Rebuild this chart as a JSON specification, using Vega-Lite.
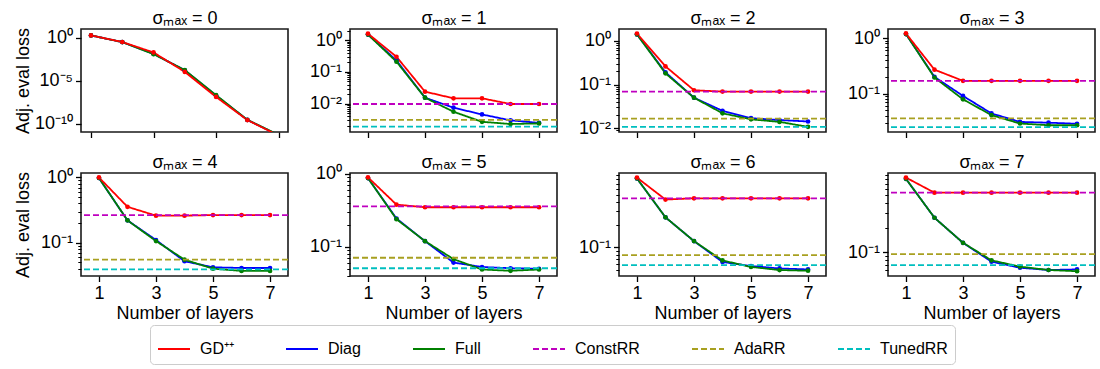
{
  "$schema": "https://vega.github.io/schema/vega-lite/v6.json",
  "autosize": {"type": "pad"},
  "padding": {"left": 13, "top": 8, "right": 0, "bottom": 0},
  "background": "white",
  "config": {
    "font": "Liberation Sans",
    "view": {"stroke": "#1a1a1a", "strokeWidth": 1.6},
    "axis": {"labelFont": "Liberation Sans", "labelFontSize": 18, "labelColor": "black", "titleFont": "Liberation Sans", "titleFontSize": 18, "titleFontWeight": "normal", "titleColor": "black", "tickColor": "black", "tickWidth": 1.3, "tickSize": 5.5, "domain": false, "grid": false, "labelPadding": 3, "labelOverlap": false, "labelFlush": false},
    "axisX": {"labelPadding": 3, "titlePadding": 2},
    "axisY": {"titleX": -53, "titleY": 51.5, "titleBaseline": "alphabetic", "titleAngle": 270},
    "legend": {"orient": "none", "legendX": 69, "legendY": 296, "direction": "horizontal", "columns": 6, "symbolType": "stroke", "symbolSize": 1024, "symbolStrokeWidth": 1.8, "labelFont": "Liberation Sans", "labelFontSize": 16, "labelColor": "black", "labelOffset": 9, "columnPadding": 48, "padding": 7, "strokeColor": "#cccccc", "cornerRadius": 4, "fillColor": "white", "labelLimit": 0}
  },
  "datasets": {
    "curves": [
      {"s":0,"series":"Diag","layer":1,"loss":2.0},{"s":0,"series":"Diag","layer":2,"loss":0.33},{"s":0,"series":"Diag","layer":3,"loss":0.014},{"s":0,"series":"Diag","layer":4,"loss":1.7e-4},{"s":0,"series":"Diag","layer":5,"loss":1.9e-7},{"s":0,"series":"Diag","layer":6,"loss":2.7e-10},{"s":0,"series":"Diag","layer":7,"loss":4.5e-12},
      {"s":0,"series":"Full","layer":1,"loss":2.0},{"s":0,"series":"Full","layer":2,"loss":0.33},{"s":0,"series":"Full","layer":3,"loss":0.013},{"s":0,"series":"Full","layer":4,"loss":1.8e-4},{"s":0,"series":"Full","layer":5,"loss":2.1e-7},{"s":0,"series":"Full","layer":6,"loss":2.8e-10},{"s":0,"series":"Full","layer":7,"loss":4.8e-12},
      {"s":0,"series":"GD⁺⁺","layer":1,"loss":2.0},{"s":0,"series":"GD⁺⁺","layer":2,"loss":0.34},{"s":0,"series":"GD⁺⁺","layer":3,"loss":0.0204},{"s":0,"series":"GD⁺⁺","layer":4,"loss":1.1e-4},{"s":0,"series":"GD⁺⁺","layer":5,"loss":1.3e-7},{"s":0,"series":"GD⁺⁺","layer":6,"loss":2.6e-10},{"s":0,"series":"GD⁺⁺","layer":7,"loss":4e-12},

      {"s":1,"series":"Diag","layer":1,"loss":1.5},{"s":1,"series":"Diag","layer":2,"loss":0.23},{"s":1,"series":"Diag","layer":3,"loss":0.0155},{"s":1,"series":"Diag","layer":4,"loss":0.0075},{"s":1,"series":"Diag","layer":5,"loss":0.0046},{"s":1,"series":"Diag","layer":6,"loss":0.003},{"s":1,"series":"Diag","layer":7,"loss":0.0025},
      {"s":1,"series":"Full","layer":1,"loss":1.5},{"s":1,"series":"Full","layer":2,"loss":0.21},{"s":1,"series":"Full","layer":3,"loss":0.0155},{"s":1,"series":"Full","layer":4,"loss":0.0056},{"s":1,"series":"Full","layer":5,"loss":0.0027},{"s":1,"series":"Full","layer":6,"loss":0.0023},{"s":1,"series":"Full","layer":7,"loss":0.0024},
      {"s":1,"series":"GD⁺⁺","layer":1,"loss":1.6},{"s":1,"series":"GD⁺⁺","layer":2,"loss":0.30},{"s":1,"series":"GD⁺⁺","layer":3,"loss":0.024},{"s":1,"series":"GD⁺⁺","layer":4,"loss":0.0148},{"s":1,"series":"GD⁺⁺","layer":5,"loss":0.0148},{"s":1,"series":"GD⁺⁺","layer":6,"loss":0.0098},{"s":1,"series":"GD⁺⁺","layer":7,"loss":0.0098},

      {"s":2,"series":"Diag","layer":1,"loss":1.4},{"s":2,"series":"Diag","layer":2,"loss":0.19},{"s":2,"series":"Diag","layer":3,"loss":0.05},{"s":2,"series":"Diag","layer":4,"loss":0.025},{"s":2,"series":"Diag","layer":5,"loss":0.017},{"s":2,"series":"Diag","layer":6,"loss":0.0154},{"s":2,"series":"Diag","layer":7,"loss":0.0143},
      {"s":2,"series":"Full","layer":1,"loss":1.4},{"s":2,"series":"Full","layer":2,"loss":0.18},{"s":2,"series":"Full","layer":3,"loss":0.05},{"s":2,"series":"Full","layer":4,"loss":0.022},{"s":2,"series":"Full","layer":5,"loss":0.016},{"s":2,"series":"Full","layer":6,"loss":0.014},{"s":2,"series":"Full","layer":7,"loss":0.0108},
      {"s":2,"series":"GD⁺⁺","layer":1,"loss":1.47},{"s":2,"series":"GD⁺⁺","layer":2,"loss":0.26},{"s":2,"series":"GD⁺⁺","layer":3,"loss":0.074},{"s":2,"series":"GD⁺⁺","layer":4,"loss":0.069},{"s":2,"series":"GD⁺⁺","layer":5,"loss":0.069},{"s":2,"series":"GD⁺⁺","layer":6,"loss":0.069},{"s":2,"series":"GD⁺⁺","layer":7,"loss":0.069},

      {"s":3,"series":"Diag","layer":1,"loss":1.18},{"s":3,"series":"Diag","layer":2,"loss":0.2},{"s":3,"series":"Diag","layer":3,"loss":0.091},{"s":3,"series":"Diag","layer":4,"loss":0.044},{"s":3,"series":"Diag","layer":5,"loss":0.031},{"s":3,"series":"Diag","layer":6,"loss":0.030},{"s":3,"series":"Diag","layer":7,"loss":0.0287},
      {"s":3,"series":"Full","layer":1,"loss":1.18},{"s":3,"series":"Full","layer":2,"loss":0.195},{"s":3,"series":"Full","layer":3,"loss":0.079},{"s":3,"series":"Full","layer":4,"loss":0.041},{"s":3,"series":"Full","layer":5,"loss":0.029},{"s":3,"series":"Full","layer":6,"loss":0.027},{"s":3,"series":"Full","layer":7,"loss":0.027},
      {"s":3,"series":"GD⁺⁺","layer":1,"loss":1.21},{"s":3,"series":"GD⁺⁺","layer":2,"loss":0.27},{"s":3,"series":"GD⁺⁺","layer":3,"loss":0.17},{"s":3,"series":"GD⁺⁺","layer":4,"loss":0.17},{"s":3,"series":"GD⁺⁺","layer":5,"loss":0.17},{"s":3,"series":"GD⁺⁺","layer":6,"loss":0.17},{"s":3,"series":"GD⁺⁺","layer":7,"loss":0.17},

      {"s":4,"series":"Diag","layer":1,"loss":0.98},{"s":4,"series":"Diag","layer":2,"loss":0.22},{"s":4,"series":"Diag","layer":3,"loss":0.11},{"s":4,"series":"Diag","layer":4,"loss":0.052},{"s":4,"series":"Diag","layer":5,"loss":0.042},{"s":4,"series":"Diag","layer":6,"loss":0.041},{"s":4,"series":"Diag","layer":7,"loss":0.041},
      {"s":4,"series":"Full","layer":1,"loss":0.98},{"s":4,"series":"Full","layer":2,"loss":0.22},{"s":4,"series":"Full","layer":3,"loss":0.106},{"s":4,"series":"Full","layer":4,"loss":0.055},{"s":4,"series":"Full","layer":5,"loss":0.04},{"s":4,"series":"Full","layer":6,"loss":0.037},{"s":4,"series":"Full","layer":7,"loss":0.037},
      {"s":4,"series":"GD⁺⁺","layer":1,"loss":1.0},{"s":4,"series":"GD⁺⁺","layer":2,"loss":0.355},{"s":4,"series":"GD⁺⁺","layer":3,"loss":0.26},{"s":4,"series":"GD⁺⁺","layer":4,"loss":0.26},{"s":4,"series":"GD⁺⁺","layer":5,"loss":0.265},{"s":4,"series":"GD⁺⁺","layer":6,"loss":0.265},{"s":4,"series":"GD⁺⁺","layer":7,"loss":0.265},

      {"s":5,"series":"Diag","layer":1,"loss":0.88},{"s":5,"series":"Diag","layer":2,"loss":0.245},{"s":5,"series":"Diag","layer":3,"loss":0.12},{"s":5,"series":"Diag","layer":4,"loss":0.061},{"s":5,"series":"Diag","layer":5,"loss":0.053},{"s":5,"series":"Diag","layer":6,"loss":0.051},{"s":5,"series":"Diag","layer":7,"loss":0.05},
      {"s":5,"series":"Full","layer":1,"loss":0.88},{"s":5,"series":"Full","layer":2,"loss":0.24},{"s":5,"series":"Full","layer":3,"loss":0.12},{"s":5,"series":"Full","layer":4,"loss":0.068},{"s":5,"series":"Full","layer":5,"loss":0.049},{"s":5,"series":"Full","layer":6,"loss":0.047},{"s":5,"series":"Full","layer":7,"loss":0.049},
      {"s":5,"series":"GD⁺⁺","layer":1,"loss":0.9},{"s":5,"series":"GD⁺⁺","layer":2,"loss":0.38},{"s":5,"series":"GD⁺⁺","layer":3,"loss":0.35},{"s":5,"series":"GD⁺⁺","layer":4,"loss":0.35},{"s":5,"series":"GD⁺⁺","layer":5,"loss":0.35},{"s":5,"series":"GD⁺⁺","layer":6,"loss":0.35},{"s":5,"series":"GD⁺⁺","layer":7,"loss":0.35},

      {"s":6,"series":"Diag","layer":1,"loss":0.82},{"s":6,"series":"Diag","layer":2,"loss":0.25},{"s":6,"series":"Diag","layer":3,"loss":0.121},{"s":6,"series":"Diag","layer":4,"loss":0.064},{"s":6,"series":"Diag","layer":5,"loss":0.0565},{"s":6,"series":"Diag","layer":6,"loss":0.0525},{"s":6,"series":"Diag","layer":7,"loss":0.051},
      {"s":6,"series":"Full","layer":1,"loss":0.82},{"s":6,"series":"Full","layer":2,"loss":0.25},{"s":6,"series":"Full","layer":3,"loss":0.121},{"s":6,"series":"Full","layer":4,"loss":0.067},{"s":6,"series":"Full","layer":5,"loss":0.055},{"s":6,"series":"Full","layer":6,"loss":0.05},{"s":6,"series":"Full","layer":7,"loss":0.049},
      {"s":6,"series":"GD⁺⁺","layer":1,"loss":0.84},{"s":6,"series":"GD⁺⁺","layer":2,"loss":0.43},{"s":6,"series":"GD⁺⁺","layer":3,"loss":0.447},{"s":6,"series":"GD⁺⁺","layer":4,"loss":0.447},{"s":6,"series":"GD⁺⁺","layer":5,"loss":0.447},{"s":6,"series":"GD⁺⁺","layer":6,"loss":0.447},{"s":6,"series":"GD⁺⁺","layer":7,"loss":0.447},

      {"s":7,"series":"Diag","layer":1,"loss":0.8},{"s":7,"series":"Diag","layer":2,"loss":0.265},{"s":7,"series":"Diag","layer":3,"loss":0.13},{"s":7,"series":"Diag","layer":4,"loss":0.076},{"s":7,"series":"Diag","layer":5,"loss":0.064},{"s":7,"series":"Diag","layer":6,"loss":0.06},{"s":7,"series":"Diag","layer":7,"loss":0.061},
      {"s":7,"series":"Full","layer":1,"loss":0.8},{"s":7,"series":"Full","layer":2,"loss":0.265},{"s":7,"series":"Full","layer":3,"loss":0.13},{"s":7,"series":"Full","layer":4,"loss":0.079},{"s":7,"series":"Full","layer":5,"loss":0.066},{"s":7,"series":"Full","layer":6,"loss":0.06},{"s":7,"series":"Full","layer":7,"loss":0.058},
      {"s":7,"series":"GD⁺⁺","layer":1,"loss":0.83},{"s":7,"series":"GD⁺⁺","layer":2,"loss":0.54},{"s":7,"series":"GD⁺⁺","layer":3,"loss":0.54},{"s":7,"series":"GD⁺⁺","layer":4,"loss":0.54},{"s":7,"series":"GD⁺⁺","layer":5,"loss":0.54},{"s":7,"series":"GD⁺⁺","layer":6,"loss":0.54},{"s":7,"series":"GD⁺⁺","layer":7,"loss":0.54}
    ],
    "baselines": [
      {"s":1,"series":"ConstRR","loss":0.0098},{"s":1,"series":"AdaRR","loss":0.0031},{"s":1,"series":"TunedRR","loss":0.0019},
      {"s":2,"series":"ConstRR","loss":0.069},{"s":2,"series":"AdaRR","loss":0.0167},{"s":2,"series":"TunedRR","loss":0.0108},
      {"s":3,"series":"ConstRR","loss":0.17},{"s":3,"series":"AdaRR","loss":0.036},{"s":3,"series":"TunedRR","loss":0.025},
      {"s":4,"series":"ConstRR","loss":0.265},{"s":4,"series":"AdaRR","loss":0.055},{"s":4,"series":"TunedRR","loss":0.039},
      {"s":5,"series":"ConstRR","loss":0.36},{"s":5,"series":"AdaRR","loss":0.071},{"s":5,"series":"TunedRR","loss":0.051},
      {"s":6,"series":"ConstRR","loss":0.447},{"s":6,"series":"AdaRR","loss":0.079},{"s":6,"series":"TunedRR","loss":0.058},
      {"s":7,"series":"ConstRR","loss":0.54},{"s":7,"series":"AdaRR","loss":0.094},{"s":7,"series":"TunedRR","loss":0.069}
    ]
  },
  "columns": 4,
  "spacing": {"row": 41, "column": 62},
  "bounds": "flush",
  "concat": [
        {
          "width": 207, "height": 103,
          "resolve": {"axis": {"x": "independent"}},
          "layer": [
            {"data": {"name": "curves"}, "transform": [{"filter": "datum.s == 0"}], "mark": {"type": "line", "strokeWidth": 1.8, "clip": true},
             "encoding": {
               "x": {"field": "layer", "type": "quantitative", "scale": {"domain": [0.68, 7.3], "nice": false, "zero": false}, "axis": {"orient": "bottom", "values": [1,3,5,7], "labels": false, "title": null}},
               "y": {"field": "loss", "type": "quantitative", "scale": {"type": "log", "domain": [1.05e-11, 11.2], "nice": false}, "axis": {"values": [1, 1e-5, 1e-10], "labelExpr": "'10' + replace(replace(replace(replace(replace(replace('' + round(log(datum.value) / LN10), '-', '⁻'), '0', '⁰'), '1', '¹'), '2', '²'), '3', '³'), '5', '⁵')", "title": "Adj. eval loss"}},
               "color": {"field": "series", "type": "nominal", "scale": {"domain": ["GD⁺⁺","Diag","Full","ConstRR","AdaRR","TunedRR"], "range": ["#ff0000","#0000ff","#008000","#bf00bf","#a8a020","#00bfbf"]}, "legend": {"title": null}},
               "strokeDash": {"field": "series", "type": "nominal", "scale": {"domain": ["GD⁺⁺","Diag","Full","ConstRR","AdaRR","TunedRR"], "range": [[1,0],[1,0],[1,0],[6,3],[6,3],[6,3]]}, "legend": {"title": null}}
             }},
            {"data": {"name": "curves"}, "transform": [{"filter": "datum.s == 0"}], "mark": {"type": "point", "filled": true, "size": 22, "opacity": 1, "clip": true},
             "encoding": {
               "x": {"field": "layer", "type": "quantitative", "axis": {"orient": "top", "ticks": false, "labels": false, "domain": false, "title": "σₘₐₓ = 0", "titlePadding": 6, "titleBaseline": "alphabetic"}},
               "y": {"field": "loss", "type": "quantitative"},
               "color": {"field": "series", "type": "nominal", "scale": {"domain": ["GD⁺⁺","Diag","Full","ConstRR","AdaRR","TunedRR"], "range": ["#ff0000","#0000ff","#008000","#bf00bf","#a8a020","#00bfbf"]}, "legend": {"title": null}}
             }}
          ]
        },
        {
          "width": 207, "height": 103,
          "resolve": {"axis": {"x": "independent"}},
          "layer": [
            {"data": {"name": "curves"}, "transform": [{"filter": "datum.s == 1"}], "mark": {"type": "line", "strokeWidth": 1.8, "clip": true},
             "encoding": {
               "x": {"field": "layer", "type": "quantitative", "scale": {"domain": [0.37, 7.63], "nice": false, "zero": false}, "axis": {"orient": "bottom", "values": [1,3,5,7], "labels": false, "title": null}},
               "y": {"field": "loss", "type": "quantitative", "scale": {"type": "log", "domain": [0.00129, 2.24], "nice": false}, "axis": {"values": [1, 0.1, 0.01, 0.002,0.003,0.004,0.005,0.006,0.007,0.008,0.009,0.02,0.03,0.04,0.05,0.06,0.07,0.08,0.09,0.2,0.3,0.4,0.5,0.6,0.7,0.8,0.9,2], "labelExpr": "abs(log(datum.value)/LN10 - round(log(datum.value)/LN10)) < 0.001 ? '10' + replace(replace(replace(replace(replace(replace('' + round(log(datum.value) / LN10), '-', '⁻'), '0', '⁰'), '1', '¹'), '2', '²'), '3', '³'), '5', '⁵') : ''", "tickSize": {"condition": {"test": "abs(log(datum.value)/LN10 - round(log(datum.value)/LN10)) < 0.001", "value": 5.5}, "value": 3.2}, "tickWidth": {"condition": {"test": "abs(log(datum.value)/LN10 - round(log(datum.value)/LN10)) < 0.001", "value": 1.3}, "value": 1}, "title": null}},
               "color": {"field": "series", "type": "nominal", "scale": {"domain": ["GD⁺⁺","Diag","Full","ConstRR","AdaRR","TunedRR"], "range": ["#ff0000","#0000ff","#008000","#bf00bf","#a8a020","#00bfbf"]}, "legend": {"title": null}},
               "strokeDash": {"field": "series", "type": "nominal", "scale": {"domain": ["GD⁺⁺","Diag","Full","ConstRR","AdaRR","TunedRR"], "range": [[1,0],[1,0],[1,0],[6,3],[6,3],[6,3]]}, "legend": {"title": null}}
             }},
            {"data": {"name": "curves"}, "transform": [{"filter": "datum.s == 1"}], "mark": {"type": "point", "filled": true, "size": 22, "opacity": 1, "clip": true},
             "encoding": {
               "x": {"field": "layer", "type": "quantitative", "axis": {"orient": "top", "ticks": false, "labels": false, "domain": false, "title": "σₘₐₓ = 1", "titlePadding": 6, "titleBaseline": "alphabetic"}},
               "y": {"field": "loss", "type": "quantitative"},
               "color": {"field": "series", "type": "nominal", "scale": {"domain": ["GD⁺⁺","Diag","Full","ConstRR","AdaRR","TunedRR"], "range": ["#ff0000","#0000ff","#008000","#bf00bf","#a8a020","#00bfbf"]}, "legend": {"title": null}}
             }},
            {"data": {"name": "baselines"}, "transform": [{"filter": "datum.s == 1"}], "mark": {"type": "rule", "strokeWidth": 1.8},
             "encoding": {
               "y": {"field": "loss", "type": "quantitative"},
               "color": {"field": "series", "type": "nominal", "scale": {"domain": ["GD⁺⁺","Diag","Full","ConstRR","AdaRR","TunedRR"], "range": ["#ff0000","#0000ff","#008000","#bf00bf","#a8a020","#00bfbf"]}, "legend": {"title": null}},
               "strokeDash": {"field": "series", "type": "nominal", "scale": {"domain": ["GD⁺⁺","Diag","Full","ConstRR","AdaRR","TunedRR"], "range": [[1,0],[1,0],[1,0],[6,3],[6,3],[6,3]]}, "legend": {"title": null}}
             }}
          ]
        },
        {
          "width": 207, "height": 103,
          "resolve": {"axis": {"x": "independent"}},
          "layer": [
            {"data": {"name": "curves"}, "transform": [{"filter": "datum.s == 2"}], "mark": {"type": "line", "strokeWidth": 1.8, "clip": true},
             "encoding": {
               "x": {"field": "layer", "type": "quantitative", "scale": {"domain": [0.37, 7.63], "nice": false, "zero": false}, "axis": {"orient": "bottom", "values": [1,3,5,7], "labels": false, "title": null}},
               "y": {"field": "loss", "type": "quantitative", "scale": {"type": "log", "domain": [0.00822, 1.86], "nice": false}, "axis": {"values": [1, 0.1, 0.01, 0.009,0.02,0.03,0.04,0.05,0.06,0.07,0.08,0.09,0.2,0.3,0.4,0.5,0.6,0.7,0.8,0.9], "labelExpr": "abs(log(datum.value)/LN10 - round(log(datum.value)/LN10)) < 0.001 ? '10' + replace(replace(replace(replace(replace(replace('' + round(log(datum.value) / LN10), '-', '⁻'), '0', '⁰'), '1', '¹'), '2', '²'), '3', '³'), '5', '⁵') : ''", "tickSize": {"condition": {"test": "abs(log(datum.value)/LN10 - round(log(datum.value)/LN10)) < 0.001", "value": 5.5}, "value": 3.2}, "tickWidth": {"condition": {"test": "abs(log(datum.value)/LN10 - round(log(datum.value)/LN10)) < 0.001", "value": 1.3}, "value": 1}, "title": null}},
               "color": {"field": "series", "type": "nominal", "scale": {"domain": ["GD⁺⁺","Diag","Full","ConstRR","AdaRR","TunedRR"], "range": ["#ff0000","#0000ff","#008000","#bf00bf","#a8a020","#00bfbf"]}, "legend": {"title": null}},
               "strokeDash": {"field": "series", "type": "nominal", "scale": {"domain": ["GD⁺⁺","Diag","Full","ConstRR","AdaRR","TunedRR"], "range": [[1,0],[1,0],[1,0],[6,3],[6,3],[6,3]]}, "legend": {"title": null}}
             }},
            {"data": {"name": "curves"}, "transform": [{"filter": "datum.s == 2"}], "mark": {"type": "point", "filled": true, "size": 22, "opacity": 1, "clip": true},
             "encoding": {
               "x": {"field": "layer", "type": "quantitative", "axis": {"orient": "top", "ticks": false, "labels": false, "domain": false, "title": "σₘₐₓ = 2", "titlePadding": 6, "titleBaseline": "alphabetic"}},
               "y": {"field": "loss", "type": "quantitative"},
               "color": {"field": "series", "type": "nominal", "scale": {"domain": ["GD⁺⁺","Diag","Full","ConstRR","AdaRR","TunedRR"], "range": ["#ff0000","#0000ff","#008000","#bf00bf","#a8a020","#00bfbf"]}, "legend": {"title": null}}
             }},
            {"data": {"name": "baselines"}, "transform": [{"filter": "datum.s == 2"}], "mark": {"type": "rule", "strokeWidth": 1.8},
             "encoding": {
               "y": {"field": "loss", "type": "quantitative"},
               "color": {"field": "series", "type": "nominal", "scale": {"domain": ["GD⁺⁺","Diag","Full","ConstRR","AdaRR","TunedRR"], "range": ["#ff0000","#0000ff","#008000","#bf00bf","#a8a020","#00bfbf"]}, "legend": {"title": null}},
               "strokeDash": {"field": "series", "type": "nominal", "scale": {"domain": ["GD⁺⁺","Diag","Full","ConstRR","AdaRR","TunedRR"], "range": [[1,0],[1,0],[1,0],[6,3],[6,3],[6,3]]}, "legend": {"title": null}}
             }}
          ]
        },
        {
          "width": 207, "height": 103,
          "resolve": {"axis": {"x": "independent"}},
          "layer": [
            {"data": {"name": "curves"}, "transform": [{"filter": "datum.s == 3"}], "mark": {"type": "line", "strokeWidth": 1.8, "clip": true},
             "encoding": {
               "x": {"field": "layer", "type": "quantitative", "scale": {"domain": [0.37, 7.63], "nice": false, "zero": false}, "axis": {"orient": "bottom", "values": [1,3,5,7], "labels": false, "title": null}},
               "y": {"field": "loss", "type": "quantitative", "scale": {"type": "log", "domain": [0.0204, 1.455], "nice": false}, "axis": {"values": [1, 0.1, 0.03,0.04,0.05,0.06,0.07,0.08,0.09,0.2,0.3,0.4,0.5,0.6,0.7,0.8,0.9], "labelExpr": "abs(log(datum.value)/LN10 - round(log(datum.value)/LN10)) < 0.001 ? '10' + replace(replace(replace(replace(replace(replace('' + round(log(datum.value) / LN10), '-', '⁻'), '0', '⁰'), '1', '¹'), '2', '²'), '3', '³'), '5', '⁵') : ''", "tickSize": {"condition": {"test": "abs(log(datum.value)/LN10 - round(log(datum.value)/LN10)) < 0.001", "value": 5.5}, "value": 3.2}, "tickWidth": {"condition": {"test": "abs(log(datum.value)/LN10 - round(log(datum.value)/LN10)) < 0.001", "value": 1.3}, "value": 1}, "title": null}},
               "color": {"field": "series", "type": "nominal", "scale": {"domain": ["GD⁺⁺","Diag","Full","ConstRR","AdaRR","TunedRR"], "range": ["#ff0000","#0000ff","#008000","#bf00bf","#a8a020","#00bfbf"]}, "legend": {"title": null}},
               "strokeDash": {"field": "series", "type": "nominal", "scale": {"domain": ["GD⁺⁺","Diag","Full","ConstRR","AdaRR","TunedRR"], "range": [[1,0],[1,0],[1,0],[6,3],[6,3],[6,3]]}, "legend": {"title": null}}
             }},
            {"data": {"name": "curves"}, "transform": [{"filter": "datum.s == 3"}], "mark": {"type": "point", "filled": true, "size": 22, "opacity": 1, "clip": true},
             "encoding": {
               "x": {"field": "layer", "type": "quantitative", "axis": {"orient": "top", "ticks": false, "labels": false, "domain": false, "title": "σₘₐₓ = 3", "titlePadding": 6, "titleBaseline": "alphabetic"}},
               "y": {"field": "loss", "type": "quantitative"},
               "color": {"field": "series", "type": "nominal", "scale": {"domain": ["GD⁺⁺","Diag","Full","ConstRR","AdaRR","TunedRR"], "range": ["#ff0000","#0000ff","#008000","#bf00bf","#a8a020","#00bfbf"]}, "legend": {"title": null}}
             }},
            {"data": {"name": "baselines"}, "transform": [{"filter": "datum.s == 3"}], "mark": {"type": "rule", "strokeWidth": 1.8},
             "encoding": {
               "y": {"field": "loss", "type": "quantitative"},
               "color": {"field": "series", "type": "nominal", "scale": {"domain": ["GD⁺⁺","Diag","Full","ConstRR","AdaRR","TunedRR"], "range": ["#ff0000","#0000ff","#008000","#bf00bf","#a8a020","#00bfbf"]}, "legend": {"title": null}},
               "strokeDash": {"field": "series", "type": "nominal", "scale": {"domain": ["GD⁺⁺","Diag","Full","ConstRR","AdaRR","TunedRR"], "range": [[1,0],[1,0],[1,0],[6,3],[6,3],[6,3]]}, "legend": {"title": null}}
             }}
          ]
        },
        {
          "width": 207, "height": 103,
          "resolve": {"axis": {"x": "independent"}},
          "layer": [
            {"data": {"name": "curves"}, "transform": [{"filter": "datum.s == 4"}], "mark": {"type": "line", "strokeWidth": 1.8, "clip": true},
             "encoding": {
               "x": {"field": "layer", "type": "quantitative", "scale": {"domain": [0.37, 7.63], "nice": false, "zero": false}, "axis": {"orient": "bottom", "values": [1,3,5,7], "title": "Number of layers"}},
               "y": {"field": "loss", "type": "quantitative", "scale": {"type": "log", "domain": [0.0309, 1.17], "nice": false}, "axis": {"values": [1, 0.1, 0.04,0.05,0.06,0.07,0.08,0.09,0.2,0.3,0.4,0.5,0.6,0.7,0.8,0.9], "labelExpr": "abs(log(datum.value)/LN10 - round(log(datum.value)/LN10)) < 0.001 ? '10' + replace(replace(replace(replace(replace(replace('' + round(log(datum.value) / LN10), '-', '⁻'), '0', '⁰'), '1', '¹'), '2', '²'), '3', '³'), '5', '⁵') : ''", "tickSize": {"condition": {"test": "abs(log(datum.value)/LN10 - round(log(datum.value)/LN10)) < 0.001", "value": 5.5}, "value": 3.2}, "tickWidth": {"condition": {"test": "abs(log(datum.value)/LN10 - round(log(datum.value)/LN10)) < 0.001", "value": 1.3}, "value": 1}, "title": "Adj. eval loss"}},
               "color": {"field": "series", "type": "nominal", "scale": {"domain": ["GD⁺⁺","Diag","Full","ConstRR","AdaRR","TunedRR"], "range": ["#ff0000","#0000ff","#008000","#bf00bf","#a8a020","#00bfbf"]}, "legend": {"title": null}},
               "strokeDash": {"field": "series", "type": "nominal", "scale": {"domain": ["GD⁺⁺","Diag","Full","ConstRR","AdaRR","TunedRR"], "range": [[1,0],[1,0],[1,0],[6,3],[6,3],[6,3]]}, "legend": {"title": null}}
             }},
            {"data": {"name": "curves"}, "transform": [{"filter": "datum.s == 4"}], "mark": {"type": "point", "filled": true, "size": 22, "opacity": 1, "clip": true},
             "encoding": {
               "x": {"field": "layer", "type": "quantitative", "axis": {"orient": "top", "ticks": false, "labels": false, "domain": false, "title": "σₘₐₓ = 4", "titlePadding": 6, "titleBaseline": "alphabetic"}},
               "y": {"field": "loss", "type": "quantitative"},
               "color": {"field": "series", "type": "nominal", "scale": {"domain": ["GD⁺⁺","Diag","Full","ConstRR","AdaRR","TunedRR"], "range": ["#ff0000","#0000ff","#008000","#bf00bf","#a8a020","#00bfbf"]}, "legend": {"title": null}}
             }},
            {"data": {"name": "baselines"}, "transform": [{"filter": "datum.s == 4"}], "mark": {"type": "rule", "strokeWidth": 1.8},
             "encoding": {
               "y": {"field": "loss", "type": "quantitative"},
               "color": {"field": "series", "type": "nominal", "scale": {"domain": ["GD⁺⁺","Diag","Full","ConstRR","AdaRR","TunedRR"], "range": ["#ff0000","#0000ff","#008000","#bf00bf","#a8a020","#00bfbf"]}, "legend": {"title": null}},
               "strokeDash": {"field": "series", "type": "nominal", "scale": {"domain": ["GD⁺⁺","Diag","Full","ConstRR","AdaRR","TunedRR"], "range": [[1,0],[1,0],[1,0],[6,3],[6,3],[6,3]]}, "legend": {"title": null}}
             }}
          ]
        },
        {
          "width": 207, "height": 103,
          "resolve": {"axis": {"x": "independent"}},
          "layer": [
            {"data": {"name": "curves"}, "transform": [{"filter": "datum.s == 5"}], "mark": {"type": "line", "strokeWidth": 1.8, "clip": true},
             "encoding": {
               "x": {"field": "layer", "type": "quantitative", "scale": {"domain": [0.37, 7.63], "nice": false, "zero": false}, "axis": {"orient": "bottom", "values": [1,3,5,7], "title": "Number of layers"}},
               "y": {"field": "loss", "type": "quantitative", "scale": {"type": "log", "domain": [0.0399, 1.032], "nice": false}, "axis": {"values": [1, 0.1, 0.04,0.05,0.06,0.07,0.08,0.09,0.2,0.3,0.4,0.5,0.6,0.7,0.8,0.9], "labelExpr": "abs(log(datum.value)/LN10 - round(log(datum.value)/LN10)) < 0.001 ? '10' + replace(replace(replace(replace(replace(replace('' + round(log(datum.value) / LN10), '-', '⁻'), '0', '⁰'), '1', '¹'), '2', '²'), '3', '³'), '5', '⁵') : ''", "tickSize": {"condition": {"test": "abs(log(datum.value)/LN10 - round(log(datum.value)/LN10)) < 0.001", "value": 5.5}, "value": 3.2}, "tickWidth": {"condition": {"test": "abs(log(datum.value)/LN10 - round(log(datum.value)/LN10)) < 0.001", "value": 1.3}, "value": 1}, "title": null}},
               "color": {"field": "series", "type": "nominal", "scale": {"domain": ["GD⁺⁺","Diag","Full","ConstRR","AdaRR","TunedRR"], "range": ["#ff0000","#0000ff","#008000","#bf00bf","#a8a020","#00bfbf"]}, "legend": {"title": null}},
               "strokeDash": {"field": "series", "type": "nominal", "scale": {"domain": ["GD⁺⁺","Diag","Full","ConstRR","AdaRR","TunedRR"], "range": [[1,0],[1,0],[1,0],[6,3],[6,3],[6,3]]}, "legend": {"title": null}}
             }},
            {"data": {"name": "curves"}, "transform": [{"filter": "datum.s == 5"}], "mark": {"type": "point", "filled": true, "size": 22, "opacity": 1, "clip": true},
             "encoding": {
               "x": {"field": "layer", "type": "quantitative", "axis": {"orient": "top", "ticks": false, "labels": false, "domain": false, "title": "σₘₐₓ = 5", "titlePadding": 6, "titleBaseline": "alphabetic"}},
               "y": {"field": "loss", "type": "quantitative"},
               "color": {"field": "series", "type": "nominal", "scale": {"domain": ["GD⁺⁺","Diag","Full","ConstRR","AdaRR","TunedRR"], "range": ["#ff0000","#0000ff","#008000","#bf00bf","#a8a020","#00bfbf"]}, "legend": {"title": null}}
             }},
            {"data": {"name": "baselines"}, "transform": [{"filter": "datum.s == 5"}], "mark": {"type": "rule", "strokeWidth": 1.8},
             "encoding": {
               "y": {"field": "loss", "type": "quantitative"},
               "color": {"field": "series", "type": "nominal", "scale": {"domain": ["GD⁺⁺","Diag","Full","ConstRR","AdaRR","TunedRR"], "range": ["#ff0000","#0000ff","#008000","#bf00bf","#a8a020","#00bfbf"]}, "legend": {"title": null}},
               "strokeDash": {"field": "series", "type": "nominal", "scale": {"domain": ["GD⁺⁺","Diag","Full","ConstRR","AdaRR","TunedRR"], "range": [[1,0],[1,0],[1,0],[6,3],[6,3],[6,3]]}, "legend": {"title": null}}
             }}
          ]
        },
        {
          "width": 207, "height": 103,
          "resolve": {"axis": {"x": "independent"}},
          "layer": [
            {"data": {"name": "curves"}, "transform": [{"filter": "datum.s == 6"}], "mark": {"type": "line", "strokeWidth": 1.8, "clip": true},
             "encoding": {
               "x": {"field": "layer", "type": "quantitative", "scale": {"domain": [0.37, 7.63], "nice": false, "zero": false}, "axis": {"orient": "bottom", "values": [1,3,5,7], "title": "Number of layers"}},
               "y": {"field": "loss", "type": "quantitative", "scale": {"type": "log", "domain": [0.0417, 0.967], "nice": false}, "axis": {"values": [0.1, 0.05,0.06,0.07,0.08,0.09,0.2,0.3,0.4,0.5,0.6,0.7,0.8,0.9], "labelExpr": "abs(log(datum.value)/LN10 - round(log(datum.value)/LN10)) < 0.001 ? '10' + replace(replace(replace(replace(replace(replace('' + round(log(datum.value) / LN10), '-', '⁻'), '0', '⁰'), '1', '¹'), '2', '²'), '3', '³'), '5', '⁵') : ''", "tickSize": {"condition": {"test": "abs(log(datum.value)/LN10 - round(log(datum.value)/LN10)) < 0.001", "value": 5.5}, "value": 3.2}, "tickWidth": {"condition": {"test": "abs(log(datum.value)/LN10 - round(log(datum.value)/LN10)) < 0.001", "value": 1.3}, "value": 1}, "title": null}},
               "color": {"field": "series", "type": "nominal", "scale": {"domain": ["GD⁺⁺","Diag","Full","ConstRR","AdaRR","TunedRR"], "range": ["#ff0000","#0000ff","#008000","#bf00bf","#a8a020","#00bfbf"]}, "legend": {"title": null}},
               "strokeDash": {"field": "series", "type": "nominal", "scale": {"domain": ["GD⁺⁺","Diag","Full","ConstRR","AdaRR","TunedRR"], "range": [[1,0],[1,0],[1,0],[6,3],[6,3],[6,3]]}, "legend": {"title": null}}
             }},
            {"data": {"name": "curves"}, "transform": [{"filter": "datum.s == 6"}], "mark": {"type": "point", "filled": true, "size": 22, "opacity": 1, "clip": true},
             "encoding": {
               "x": {"field": "layer", "type": "quantitative", "axis": {"orient": "top", "ticks": false, "labels": false, "domain": false, "title": "σₘₐₓ = 6", "titlePadding": 6, "titleBaseline": "alphabetic"}},
               "y": {"field": "loss", "type": "quantitative"},
               "color": {"field": "series", "type": "nominal", "scale": {"domain": ["GD⁺⁺","Diag","Full","ConstRR","AdaRR","TunedRR"], "range": ["#ff0000","#0000ff","#008000","#bf00bf","#a8a020","#00bfbf"]}, "legend": {"title": null}}
             }},
            {"data": {"name": "baselines"}, "transform": [{"filter": "datum.s == 6"}], "mark": {"type": "rule", "strokeWidth": 1.8},
             "encoding": {
               "y": {"field": "loss", "type": "quantitative"},
               "color": {"field": "series", "type": "nominal", "scale": {"domain": ["GD⁺⁺","Diag","Full","ConstRR","AdaRR","TunedRR"], "range": ["#ff0000","#0000ff","#008000","#bf00bf","#a8a020","#00bfbf"]}, "legend": {"title": null}},
               "strokeDash": {"field": "series", "type": "nominal", "scale": {"domain": ["GD⁺⁺","Diag","Full","ConstRR","AdaRR","TunedRR"], "range": [[1,0],[1,0],[1,0],[6,3],[6,3],[6,3]]}, "legend": {"title": null}}
             }}
          ]
        },
        {
          "width": 207, "height": 103,
          "resolve": {"axis": {"x": "independent"}},
          "layer": [
            {"data": {"name": "curves"}, "transform": [{"filter": "datum.s == 7"}], "mark": {"type": "line", "strokeWidth": 1.8, "clip": true},
             "encoding": {
               "x": {"field": "layer", "type": "quantitative", "scale": {"domain": [0.37, 7.63], "nice": false, "zero": false}, "axis": {"orient": "bottom", "values": [1,3,5,7], "title": "Number of layers"}},
               "y": {"field": "loss", "type": "quantitative", "scale": {"type": "log", "domain": [0.0506, 0.945], "nice": false}, "axis": {"values": [0.1, 0.06,0.07,0.08,0.09,0.2,0.3,0.4,0.5,0.6,0.7,0.8,0.9], "labelExpr": "abs(log(datum.value)/LN10 - round(log(datum.value)/LN10)) < 0.001 ? '10' + replace(replace(replace(replace(replace(replace('' + round(log(datum.value) / LN10), '-', '⁻'), '0', '⁰'), '1', '¹'), '2', '²'), '3', '³'), '5', '⁵') : ''", "tickSize": {"condition": {"test": "abs(log(datum.value)/LN10 - round(log(datum.value)/LN10)) < 0.001", "value": 5.5}, "value": 3.2}, "tickWidth": {"condition": {"test": "abs(log(datum.value)/LN10 - round(log(datum.value)/LN10)) < 0.001", "value": 1.3}, "value": 1}, "title": null}},
               "color": {"field": "series", "type": "nominal", "scale": {"domain": ["GD⁺⁺","Diag","Full","ConstRR","AdaRR","TunedRR"], "range": ["#ff0000","#0000ff","#008000","#bf00bf","#a8a020","#00bfbf"]}, "legend": {"title": null}},
               "strokeDash": {"field": "series", "type": "nominal", "scale": {"domain": ["GD⁺⁺","Diag","Full","ConstRR","AdaRR","TunedRR"], "range": [[1,0],[1,0],[1,0],[6,3],[6,3],[6,3]]}, "legend": {"title": null}}
             }},
            {"data": {"name": "curves"}, "transform": [{"filter": "datum.s == 7"}], "mark": {"type": "point", "filled": true, "size": 22, "opacity": 1, "clip": true},
             "encoding": {
               "x": {"field": "layer", "type": "quantitative", "axis": {"orient": "top", "ticks": false, "labels": false, "domain": false, "title": "σₘₐₓ = 7", "titlePadding": 6, "titleBaseline": "alphabetic"}},
               "y": {"field": "loss", "type": "quantitative"},
               "color": {"field": "series", "type": "nominal", "scale": {"domain": ["GD⁺⁺","Diag","Full","ConstRR","AdaRR","TunedRR"], "range": ["#ff0000","#0000ff","#008000","#bf00bf","#a8a020","#00bfbf"]}, "legend": {"title": null}}
             }},
            {"data": {"name": "baselines"}, "transform": [{"filter": "datum.s == 7"}], "mark": {"type": "rule", "strokeWidth": 1.8},
             "encoding": {
               "y": {"field": "loss", "type": "quantitative"},
               "color": {"field": "series", "type": "nominal", "scale": {"domain": ["GD⁺⁺","Diag","Full","ConstRR","AdaRR","TunedRR"], "range": ["#ff0000","#0000ff","#008000","#bf00bf","#a8a020","#00bfbf"]}, "legend": {"title": null}},
               "strokeDash": {"field": "series", "type": "nominal", "scale": {"domain": ["GD⁺⁺","Diag","Full","ConstRR","AdaRR","TunedRR"], "range": [[1,0],[1,0],[1,0],[6,3],[6,3],[6,3]]}, "legend": {"title": null}}
             }}
          ]
        }
  ]
}
